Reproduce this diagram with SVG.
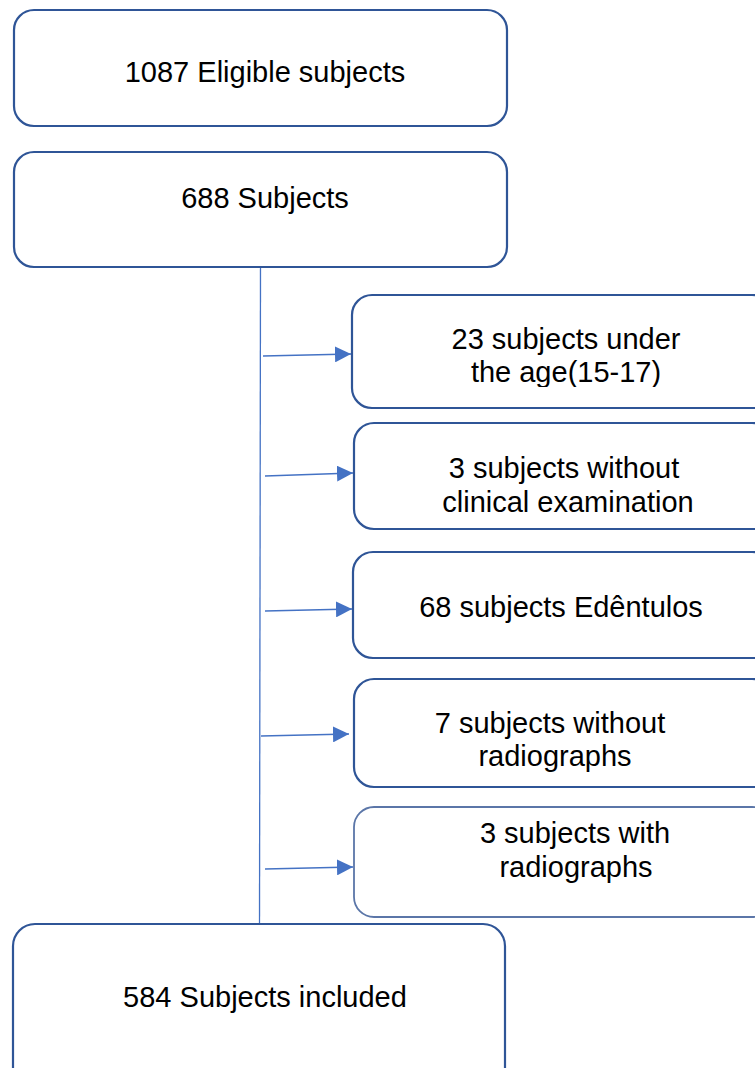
<svg xmlns="http://www.w3.org/2000/svg" width="755" height="1068" viewBox="0 0 755 1068">
<style>
.box{fill:#fff;stroke:#2F5597;stroke-width:2.2}
.lbl{font-family:"Liberation Sans",Arial,sans-serif;font-size:29px;fill:#000;text-anchor:middle}
.con{stroke:#4472C4;stroke-width:1.3;fill:none}
</style>
<defs>
<marker id="ah" markerUnits="userSpaceOnUse" markerWidth="16" markerHeight="16" refX="16" refY="8" orient="auto">
<path d="M0,0 L16,8 L0,16 Z" fill="#4472C4"/>
</marker>
<clipPath id="clip3"><rect x="352" y="296" width="403" height="91"/></clipPath>
</defs>
<rect width="755" height="1068" fill="#fff"/>
<g id="connectors">
<line class="con" x1="260.5" y1="267" x2="259.5" y2="924"/>
<line class="con" x1="263" y1="356" x2="351" y2="354" marker-end="url(#ah)"/>
<line class="con" x1="265" y1="476" x2="353" y2="473" marker-end="url(#ah)"/>
<line class="con" x1="265" y1="611" x2="352" y2="609" marker-end="url(#ah)"/>
<line class="con" x1="261" y1="736" x2="349" y2="734" marker-end="url(#ah)"/>
<line class="con" x1="265" y1="869" x2="353" y2="867" marker-end="url(#ah)"/>
</g>
<g id="n1">
<rect class="box" x="14" y="10" width="493" height="116" rx="20"/>
<text class="lbl" x="265" y="82">1087 Eligible subjects</text>
</g>
<g id="n2">
<rect class="box" x="14" y="152" width="493" height="115" rx="20"/>
<text class="lbl" x="265" y="208">688 Subjects</text>
</g>
<g id="n3">
<rect class="box" x="352" y="295" width="420" height="113" rx="20"/>
<g clip-path="url(#clip3)">
<text class="lbl" x="566" y="349">23 subjects under</text>
<text class="lbl" x="566" y="382">the age(15-17)</text>
</g>
</g>
<g id="n4">
<rect class="box" x="354" y="423" width="418" height="106" rx="20"/>
<text class="lbl" x="564" y="478">3 subjects without</text>
<text class="lbl" x="568" y="512">clinical examination</text>
</g>
<g id="n5">
<rect class="box" x="353" y="552" width="419" height="106" rx="20"/>
<text class="lbl" x="561" y="617">68 subjects Edêntulos</text>
</g>
<g id="n6">
<rect class="box" x="354" y="679" width="418" height="108" rx="20"/>
<text class="lbl" x="550" y="733">7 subjects without</text>
<text class="lbl" x="555" y="766">radiographs</text>
</g>
<g id="n7">
<rect class="box" x="354" y="807" width="418" height="110" rx="20" style="stroke:#5B76A8;stroke-width:1.8"/>
<text class="lbl" x="575" y="843">3 subjects with</text>
<text class="lbl" x="576" y="877">radiographs</text>
</g>
<g id="n8">
<rect class="box" x="13" y="924" width="492" height="170" rx="22"/>
<text class="lbl" x="265" y="1007">584 Subjects included</text>
</g>
</svg>
